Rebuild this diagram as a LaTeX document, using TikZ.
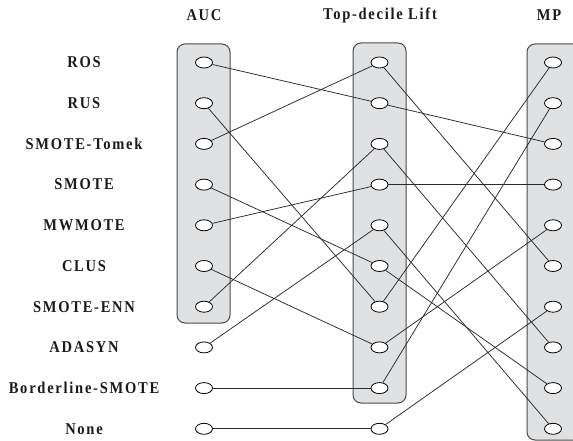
\documentclass[tikz,border=0pt]{standalone}
\usepackage{fontspec}
\setmainfont{Liberation Serif}
\newfontfamily\lblfont[LetterSpace=12]{Liberation Serif}
\newcommand\sqtext[1]{\scalebox{0.88}[1]{#1}}
\usetikzlibrary{shapes.geometric}
\definecolor{boxfill}{HTML}{E0E1E3}
\definecolor{boxline}{HTML}{4A4A4A}
\definecolor{linkcol}{HTML}{2A2A2A}
\definecolor{txtcol}{HTML}{1A1A1A}
\begin{document}
\begin{tikzpicture}[x=1pt,y=-1pt,
  pt/.style={ellipse,draw=black,fill=white,line width=0.8pt,minimum width=17pt,minimum height=11pt,inner sep=0pt},
  grp/.style={draw=boxline,fill=boxfill,line width=1pt,rounded corners=8pt},
  lbl/.style={font=\lblfont\fontsize{16.5}{18}\selectfont\bfseries,text=txtcol,inner sep=0pt},
  hdr/.style={font=\lblfont\fontsize{16.5}{18}\selectfont\bfseries,text=txtcol,inner sep=0pt},
  link/.style={draw=linkcol,line width=0.75pt}]
\useasboundingbox (0,0) rectangle (573,441);
\begin{scope}
\clip (0,0) rectangle (573,441);
\draw[grp] (177,44) rectangle (230,323);
\draw[grp] (353,43) rectangle (406,403);
\draw[grp] (527,44) rectangle (590,440);
\end{scope}
\node[hdr] (hA) at (204,15) {\sqtext{AUC}};
\node[hdr] (hL) at (380,15) {\sqtext{Top-decile Lift}};
\node[hdr] (hM) at (549,15) {\sqtext{MP}};
\foreach \i/\t in {1/ROS,2/RUS,3/SMOTE-Tomek,4/SMOTE,5/MWMOTE,6/CLUS,7/SMOTE-ENN,8/ADASYN,9/Borderline-SMOTE,10/None}{
  \pgfmathsetmacro{\yy}{62.5+(\i-1)*40.7}
  \node[lbl] (lab\i) at (84,\yy) {\sqtext{\t}};
  \node[pt] (a\i) at (204,\yy) {};
  \node[pt] (m\i) at (379.5,\yy) {};
  \node[pt] (r\i) at (553,\yy) {};
}
\foreach \s/\d in {1/2,2/7,3/1,4/6,5/4,6/8,7/3,8/5,9/9,10/10}{
  \draw[link] (a\s) -- (m\d);
}
\foreach \s/\d in {1/6,2/3,3/8,4/4,5/10,6/9,7/1,8/5,9/2,10/7}{
  \draw[link] (m\s) -- (r\d);
}
\end{tikzpicture}
\end{document}
